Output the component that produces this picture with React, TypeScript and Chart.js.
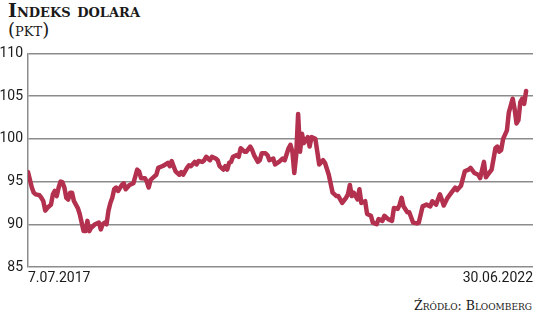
import React, { useEffect, useRef } from "react";
import { Chart, registerables } from "chart.js";

Chart.register(...registerables);

const startLabel = "7.07.2017";
const endLabel = "30.06.2022";
const yTicks = [85, 90, 95, 100, 105, 110];

// week index since 7.07.2017
const weeks = [
  0, 2, 3, 4, 6, 7, 8, 9, 10, 12, 13, 14, 15, 16, 17, 18, 19, 20, 21, 22, 23, 24, 26, 27, 28, 29, 30, 31, 32, 33, 35, 37, 38, 39, 40, 41,
  42, 43, 44, 45, 46, 47, 49, 50, 51, 53, 55, 57, 58, 59, 61, 62, 63, 64, 66, 67, 68, 70, 71, 73, 74, 75, 76, 77, 79, 80, 81, 83, 84, 85,
  87, 88, 89, 91, 92, 93, 95, 96, 98, 99, 100, 102, 103, 104, 105, 106, 107, 109, 110, 111, 113, 114, 116, 117, 118, 120, 121, 122, 124, 125,
  126, 128, 129, 131, 133, 134, 136, 137, 138, 139, 140, 141, 142, 143, 144, 146, 147, 148, 150, 151, 152, 154, 155, 157, 159, 161, 162, 164,
  166, 167, 168, 169, 170, 172, 173, 174, 176, 177, 179, 180, 182, 183, 185, 186, 188, 190, 191, 193, 194, 195, 196, 198, 199, 201, 203, 204,
  206, 208, 210, 211, 213, 215, 216, 217, 219, 221, 223, 224, 226, 228, 230, 231, 233, 235, 236, 238, 239, 240, 242, 244, 245, 246, 247, 248,
  250, 251, 252, 253, 254, 255, 256, 257, 258, 259, 260,
];

const dollarIndex = [
  96.1, 94.3, 93.7, 93.5, 93.4, 93.1, 92.7, 91.6, 91.9, 92.3, 93.5, 93.9, 93.3, 94.3, 95.0, 94.9, 94.3, 93.1, 92.9, 93.7, 93.7, 92.7, 91.9, 91.2, 90.2, 89.2, 89.2, 90.4, 89.2, 89.6, 90.0, 90.2, 89.4, 90.0, 90.2, 90.0,
  91.6, 92.5, 93.1, 94.1, 94.3, 93.9, 94.6, 94.8, 94.1, 94.6, 94.8, 96.4, 96.2, 95.4, 95.4, 95.0, 94.3, 95.2, 95.6, 95.8, 96.6, 96.8, 96.9, 97.2, 96.8, 97.4, 96.8, 96.2, 95.8, 96.1, 95.8, 96.6, 96.9, 96.8,
  97.3, 97.0, 97.4, 97.3, 97.5, 97.9, 97.5, 97.9, 97.7, 97.5, 96.8, 96.4, 96.8, 96.4, 97.2, 97.3, 97.9, 98.1, 97.9, 98.9, 98.5, 98.5, 99.1, 98.7, 98.1, 97.3, 97.5, 98.3, 98.3, 98.1,
  97.5, 97.7, 97.0, 97.3, 97.7, 97.5, 98.9, 99.3, 98.5, 96.0, 98.1, 102.9, 98.5, 100.6, 99.5, 100.2, 99.1, 100.2, 100.0, 98.5, 97.0, 97.5, 97.2, 95.8, 93.7, 93.3, 93.3, 92.5,
  93.1, 93.5, 94.6, 93.3, 93.7, 92.9, 94.1, 92.5, 92.7, 91.2, 91.0, 90.2, 90.0, 90.6, 90.4, 91.0, 90.6, 90.4, 91.9, 91.8, 92.3, 93.1, 92.1, 91.4, 91.4, 90.2, 90.1, 90.2,
  92.1, 92.3, 92.1, 92.7, 92.3, 93.5, 92.9, 92.2, 93.1, 93.7, 94.3, 94.0, 94.5, 96.2, 96.4, 96.6, 96.0, 95.8, 95.4, 97.3, 95.5, 95.8, 96.4, 98.9, 99.1, 98.5, 98.7, 100.0,
  101.0, 103.1, 103.9, 104.7, 103.5, 101.8, 102.2, 104.3, 104.7, 104.1, 105.6,
];

export default function App() {
  const ref = useRef<HTMLCanvasElement | null>(null);

  useEffect(() => {
    document.body.style.margin = "0";
    const canvas = ref.current;
    if (!canvas) return;
    const data = weeks.map((w, i) => ({ x: w, y: dollarIndex[i] }));
    const lastWeek = weeks[weeks.length - 1];
    const chart = new Chart(canvas, {
      type: "line",
      data: {
        datasets: [
          {
            data,
            borderColor: "#b3304f",
            borderWidth: 4.5,
            pointRadius: 0,
            tension: 0,
            borderJoinStyle: "round",
            borderCapStyle: "round",
          },
        ],
      },
      options: {
        animation: false,
        responsive: false,
        layout: { padding: { top: 10, right: 3, left: 0, bottom: 0 } },
        plugins: { legend: { display: false }, tooltip: { enabled: false } },
        scales: {
          x: {
            type: "linear",
            min: 0,
            max: lastWeek + 3.6,
            grid: { display: false, drawTicks: false },
            border: { display: false },
            afterBuildTicks: (scale: any) => {
              scale.ticks = [{ value: scale.min }, { value: scale.max }];
            },
            afterFit: (scale: any) => {
              scale.height = 23;
            },
            ticks: {
              align: "inner",
              maxRotation: 0,
              autoSkip: false,
              padding: 3,
              color: "#1a1a1a",
              font: { family: "Roboto", size: 14 },
              callback: (v: any, i: number) => (i === 0 ? startLabel : endLabel),
            },
          },
          y: {
            min: yTicks[0],
            max: yTicks[yTicks.length - 1],
            afterBuildTicks: (scale: any) => {
              scale.ticks = yTicks.map((v) => ({ value: v }));
            },
            afterFit: (scale: any) => {
              scale.width = 28;
            },
            grid: { color: "#8c8c8c", lineWidth: 1.5, drawTicks: false },
            border: { display: true, color: "#8c8c8c", width: 1.5 },
            ticks: {
              padding: 5,
              color: "#1a1a1a",
              font: { family: "Roboto", size: 14 },
            },
          },
        },
      },
    });
    return () => chart.destroy();
  }, []);

  return (
    <div style={{ position: "absolute", left: 0, top: 0, width: 536, height: 318, background: "#fff", overflow: "hidden" }}>
      <div
        style={{
          position: "absolute",
          left: 8,
          top: 0,
          fontFamily: "'DejaVu Serif', serif",
          fontWeight: 900,
          fontVariant: "small-caps",
          fontSize: 19,
          lineHeight: "20px",
          color: "#1a1a1a",
          whiteSpace: "nowrap",
        }}
      >
        Indeks dolara
      </div>
      <div
        style={{
          position: "absolute",
          left: 8,
          top: 20,
          fontFamily: "'DejaVu Serif', serif",
          fontVariant: "small-caps",
          fontSize: 18,
          lineHeight: "20px",
          color: "#1a1a1a",
          whiteSpace: "nowrap",
        }}
      >
        (pkt)
      </div>
      <canvas ref={ref} width={536} height={250} style={{ position: "absolute", left: 0, top: 40 }} />
      <div
        style={{
          position: "absolute",
          right: 4,
          top: 298,
          fontFamily: "'DejaVu Serif', serif",
          fontVariant: "small-caps",
          fontSize: 12.5,
          lineHeight: "16px",
          color: "#1a1a1a",
          whiteSpace: "nowrap",
        }}
      >
        Źródło: Bloomberg
      </div>
    </div>
  );
}
